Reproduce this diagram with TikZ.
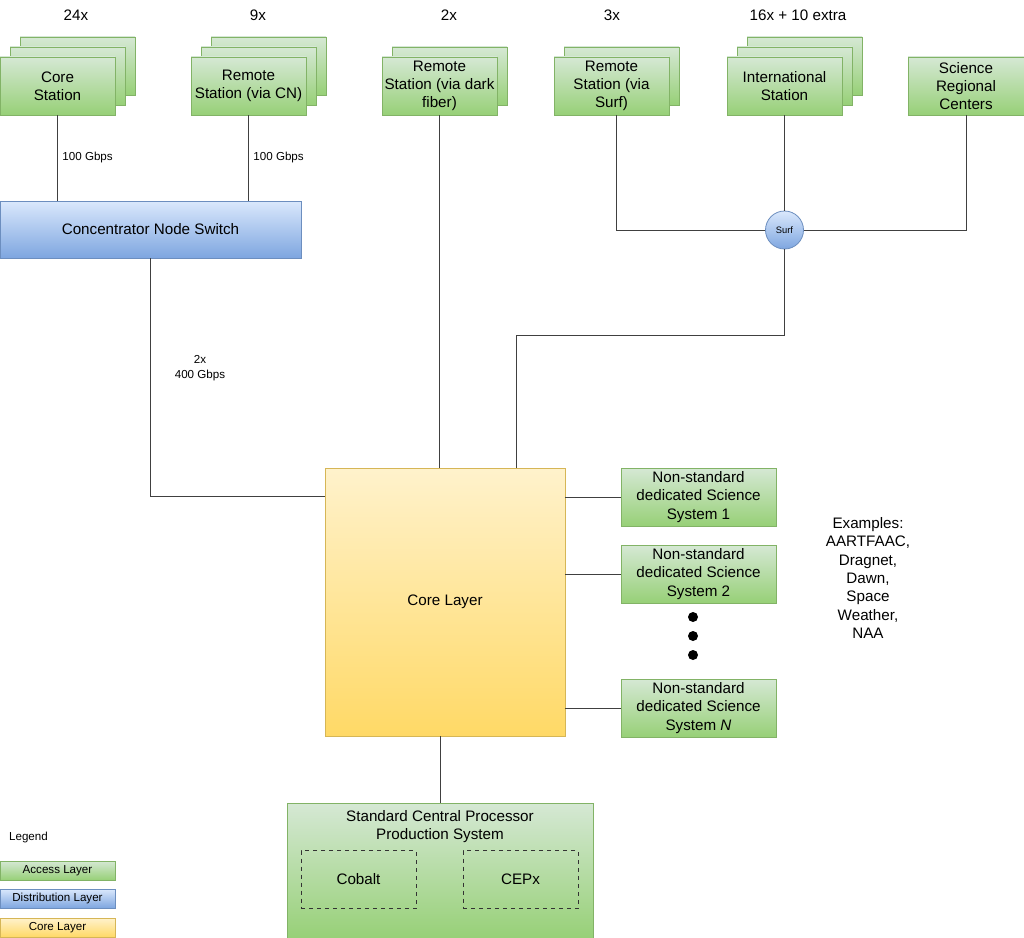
\documentclass[tikz,border=0pt]{standalone}
\usepackage{fontspec}
\setmainfont{Liberation Sans}
\usepackage{tikz}
\usetikzlibrary{
  positioning,
  shapes.geometric
}
\definecolor{accfill}{HTML}{D5E8D4}
\definecolor{accshade}{HTML}{97D077}
\definecolor{accline}{HTML}{82B366}
\definecolor{distfill}{HTML}{DAE8FC}
\definecolor{distshade}{HTML}{7EA6E0}
\definecolor{distline}{HTML}{6C8EBF}
\definecolor{corefill}{HTML}{FFF2CC}
\definecolor{coreshade}{HTML}{FFD966}
\definecolor{coreline}{HTML}{D6B656}
\definecolor{linkgray}{HTML}{404040}
\newcommand{\smallfont}{\fontsize{8.7}{11}\selectfont}

\begin{document}
\begin{tikzpicture}[
  x=0.75pt,
  y=-0.75pt,
  font=\fontsize{11.4}{13.7}\selectfont,
  accbox/.style={
    draw=accline,
    line width=0.6pt,
    top color=accfill,
    bottom color=accshade,
    minimum width=86.25pt,
    minimum height=43.5pt,
    inner sep=1pt,
    align=center
  },
  distbox/.style={
    accbox,
    draw=distline,
    top color=distfill,
    bottom color=distshade
  },
  corebox/.style={
    accbox,
    draw=coreline,
    top color=corefill,
    bottom color=coreshade
  },
  subbox/.style={
    draw=black!80,
    dashed,
    line width=0.6pt,
    minimum width=86.25pt,
    minimum height=43.5pt
  },
  legbox/.style={
    minimum height=14.25pt,
    font=\smallfont
  },
  link/.style={
    draw=linkgray,
    line width=0.75pt
  },
  lbl/.style={
    font=\smallfont
  },
  dotmark/.style={
    circle,
    fill=black,
    inner sep=0pt,
    minimum size=7.5pt
  }
]

\fill[white] (0,0) rectangle (1024,938);
\useasboundingbox (0,0) rectangle (1024,938);

% station counts
\node (cnt24) at (76,15) {24x};
\node (cnt9) at (258,15) {9x};
\node (cnt2) at (449,15) {2x};
\node (cnt3) at (612,15) {3x};
\node (cnt16) at (798,15) {16x + 10 extra};

% access layer stations
\foreach \k in {2,1}
  \node[accbox] at (57.5+10*\k,86-10*\k) {};
\node[accbox] (corestn) at (57.5,86) {Core\\Station};

\foreach \k in {2,1}
  \node[accbox] at (248.5+10*\k,86-10*\k) {};
\node[accbox] (remcn) at (248.5,86) {Remote\\Station (via CN)};

\node[accbox] at (449.5,76) {};
\node[accbox] (darkfib) at (439.5,86) {Remote\\Station (via dark\\fiber)};

\node[accbox] at (621.5,76) {};
\node[accbox] (surfstn) at (611.5,86) {Remote\\Station (via\\Surf)};

\foreach \k in {2,1}
  \node[accbox] at (784.5+10*\k,86-10*\k) {};
\node[accbox] (intlstn) at (784.5,86) {International\\Station};

\node[accbox, minimum width=87pt] (srcent) at (966,86) {Science\\Regional\\Centers};

% distribution
\node[distbox, minimum width=225.75pt, minimum height=42.75pt] (concsw) at (150.5,229.5) {Concentrator Node Switch};
\node[circle, draw=distline, line width=0.6pt, top color=distfill, bottom color=distshade,
  minimum size=28.5pt, inner sep=0pt, font=\fontsize{7}{8}\selectfont] (surf) at (784.5,230) {Surf};

% core
\node[corebox, minimum width=180pt, minimum height=201pt] (corelyr) at (445,602) {Core Layer};

\node[accbox, minimum width=116.25pt] (nss1) at (698.5,497) {Non-standard\\dedicated Science\\System 1};
\node[accbox, minimum width=116.25pt] (nss2) at (698.5,574) {Non-standard\\dedicated Science\\System 2};
\node[accbox, minimum width=116.25pt] (nssn) at (698.5,708) {Non-standard\\dedicated Science\\System \textit{N}};

\node[dotmark] (dot1) at (693,617) {};
\node[dotmark] (dot2) at (693,636) {};
\node[dotmark] (dot3) at (693,655) {};

\node[align=center] (examples) at (868,578) {Examples:\\AARTFAAC,\\Dragnet,\\Dawn,\\Space\\Weather,\\NAA};

% production system
\node[accbox, minimum width=229.5pt, minimum height=101.25pt, anchor=north] (scp) at (440,803) {};
\node[align=center, below=2pt] (scptitle) at (scp.north) {Standard Central Processor\\Production System};
\node[subbox] (cobalt) at (358.5,879.5) {Cobalt};
\node[subbox] (cepx) at (520.5,879.5) {CEPx};

% legend
\node[lbl] (legend) at (28.5,837) {Legend};
\node[accbox, legbox] (legacc) at (57.5,870.5) {Access Layer};
\node[distbox, legbox] (legdist) at (57.5,898.5) {Distribution Layer};
\node[corebox, legbox] (legcore) at (57.5,927.5) {Core Layer};

% links
\draw[link] (corestn) -- node[lbl, right] {100 Gbps} (corestn |- concsw.north);
\draw[link] (remcn) -- node[lbl, right] {100 Gbps} (remcn |- concsw.north);
\draw[link] (darkfib) -- (darkfib |- corelyr.north);
\draw[link] (intlstn) -- (surf);
\draw[link] ([xshift=3.75pt]surfstn.south) |- (surf);
\draw[link] (srcent) |- (surf);
\coordinate (surfbend) at (516,335);
\draw[link] (surf) |- (surfbend) -- (surfbend |- corelyr.north);
\draw[link] (concsw) |- ([yshift=-21.75pt]corelyr.north west);
\node[lbl, align=center] (bwcore) at (200,368) {2x\\400 Gbps};
\foreach \s in {nss1,nss2,nssn}
  \draw[link] (corelyr.east |- \s.west) -- (\s);
\draw[link] (corelyr.south -| scp.north) -- (scp);

\end{tikzpicture}
\end{document}
